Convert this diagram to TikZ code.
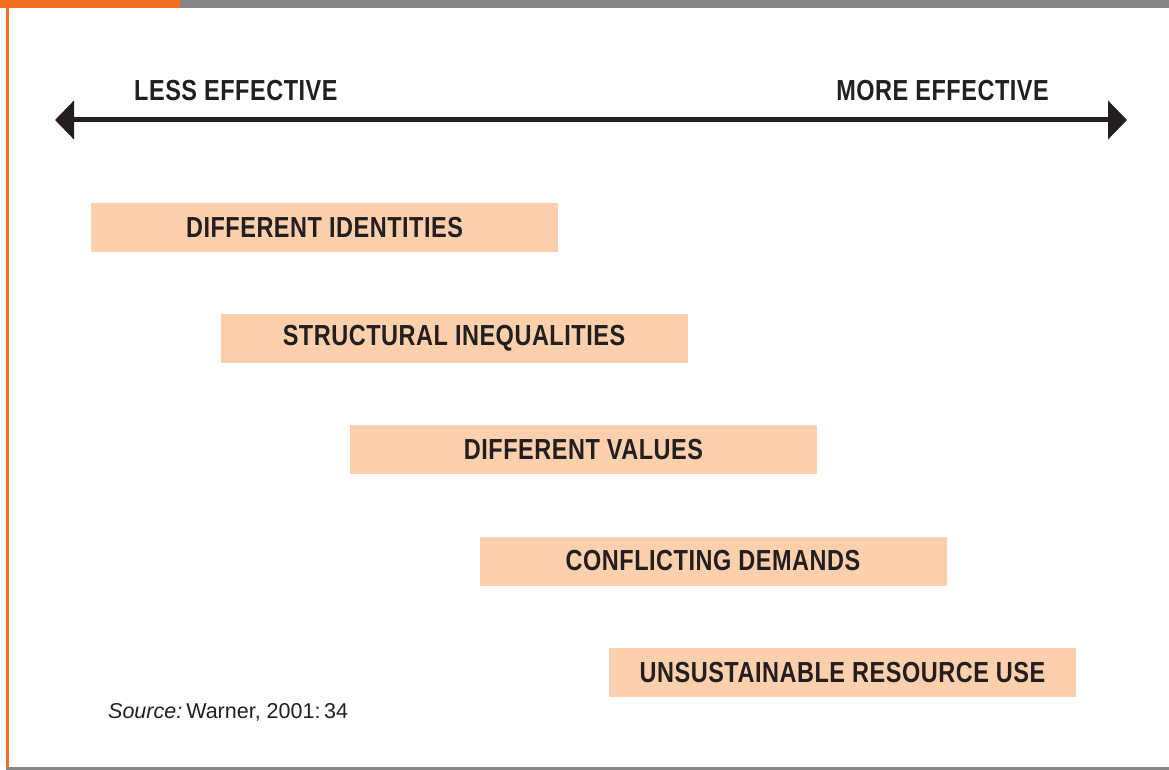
\documentclass[tikz,border=0pt]{standalone}
\usepackage{fontspec}
\setmainfont{Liberation Sans}
\newfontfamily\condfont[FakeStretch=0.81, LetterSpace=1.8]{Liberation Sans}
\usetikzlibrary{arrows.meta}
\definecolor{barorange}{HTML}{F36F21}
\definecolor{bargray}{HTML}{858688}
\definecolor{peach}{HTML}{FCCFAD}
\definecolor{ink}{HTML}{231F20}
\tikzset{
  factor/.style={fill=peach, draw=none, minimum width=467pt, minimum height=49pt,
    inner sep=0pt, text=ink, font=\condfont\bfseries\fontsize{29}{32}\selectfont},
  heading/.style={text=ink, font=\condfont\bfseries\fontsize{29}{32}\selectfont, inner sep=0pt},
  scale arrow/.style={draw=ink, line width=5pt,
    {Triangle[length=19pt,width=38pt,fill=ink]}-{Triangle[length=19pt,width=38pt,fill=ink]}}
}
\begin{document}
\begin{tikzpicture}[x=1pt,y=-1pt]
\useasboundingbox (0,0) rectangle (1169,770);
% frame
\fill[bargray] (180,0) rectangle (1169,8);
\fill[barorange] (0,0) rectangle (180,8);
\fill[barorange] (6,8) rectangle (8.6,767.5);
\fill[bargray] (6,767.3) rectangle (1169,770);
% scale
\coordinate (L) at (55,120);
\coordinate (R) at (1127,120);
\draw[scale arrow] (L) -- (R);
\node[heading, anchor=base west] (less) at (134,101) {LESS EFFECTIVE};
\node[heading, anchor=base east] (more) at (1049,101) {MORE EFFECTIVE};
% factors
\node[factor] (f1) at (324.5,227.5) {DIFFERENT IDENTITIES};
\node[factor] (f2) at (454,338.5) {STRUCTURAL INEQUALITIES};
\node[factor] (f3) at (583.5,449.5) {DIFFERENT VALUES};
\node[factor] (f4) at (713,561) {CONFLICTING DEMANDS};
\node[factor] (f5) at (842.5,672.5) {UNSUSTAINABLE RESOURCE USE};
% source
\node[anchor=base west, inner sep=0pt, text=ink, font=\fontsize{21.5}{25}\selectfont] (src) at (108,718) {\textit{Source:}\kern-2pt\ Warner, 2001:\,34};
\end{tikzpicture}
\end{document}
